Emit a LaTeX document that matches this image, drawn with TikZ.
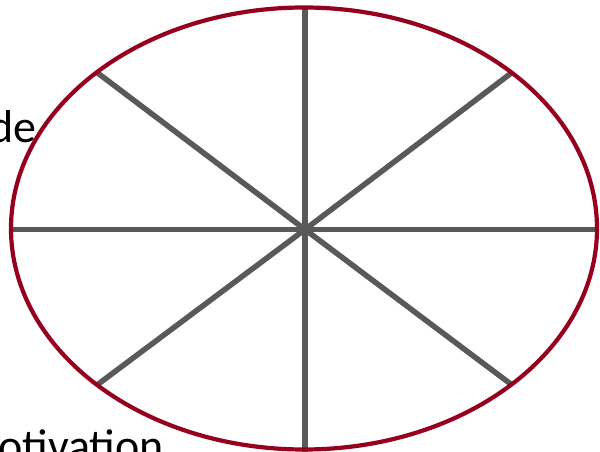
\documentclass[tikz,border=0pt]{standalone}
\usepackage{fontspec}
\setmainfont{Carlito}
\definecolor{rimred}{RGB}{150,0,30}
\definecolor{spokegray}{RGB}{89,89,89}
\begin{document}
\begin{tikzpicture}[x=1pt,y=-1pt,
  spoke/.style={draw=spokegray,line width=5.5pt},
  rim/.style={draw=rimred,line width=4.2pt},
  label/.style={inner sep=0pt,font=\fontsize{46}{54}\selectfont,text=black}]
\useasboundingbox (0,0) rectangle (600,452);
\clip (0,0) rectangle (600,452);
\coordinate (c) at (305,229.5);
\coordinate (top) at (305,8);
\coordinate (bot) at (305,452);
\coordinate (lft) at (10,229.5);
\coordinate (rgt) at (598,229.5);
\coordinate (ul) at (97,72.5);
\coordinate (ur) at (512,72.5);
\coordinate (ll) at (97,385);
\coordinate (lr) at (512,385);
\draw[spoke] (top) -- (bot);
\draw[spoke] (lft) -- (rgt);
\draw[spoke] (c) -- (ul);
\draw[spoke] (c) -- (ur);
\draw[spoke] (c) -- (ll);
\draw[spoke] (c) -- (lr);
\node[label,anchor=base east] (t1) at (37,142) {de};
\node[label,anchor=base west] (t2) at (-2,461) {otivation};
\draw[rim] (304,228.5) ellipse [x radius=293, y radius=221];
\end{tikzpicture}
\end{document}
